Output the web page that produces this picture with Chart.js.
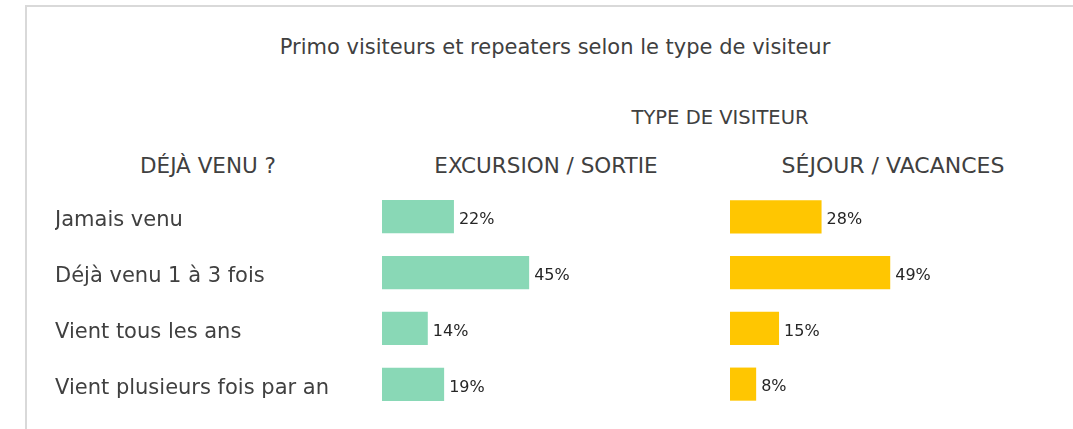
<!DOCTYPE html>
<html lang="fr">
<head>
<meta charset="utf-8">
<title>Primo visiteurs et repeaters</title>
<script src="https://cdn.jsdelivr.net/npm/chart.js@4.4.1/dist/chart.umd.min.js"></script>
<style>
    html, body {
        margin: 0;
        padding: 0;
        background: #ffffff;
        width: 1073px;
        height: 429px;
        overflow: hidden;
        font-family: "DejaVu Sans", sans-serif;
    }
    .frame {
        position: absolute;
        left: 25px;
        top: 5px;
        width: 1048px;
        height: 424px;
        border-left: 2px solid #d9d9d9;
        border-top: 2px solid #d9d9d9;
        box-sizing: border-box;
    }
    .txt {
        position: absolute;
        color: #404040;
        white-space: nowrap;
        transform: translate(-50%, -50%);
    }
    canvas {
        position: absolute;
    }
</style>
</head>
<body>
<div class="frame"></div>

<div class="txt" id="title" style="left:555px; top:47px; font-size:21px;"></div>
<div class="txt" id="typeHeader" style="left:720px; top:117px; font-size:19.5px;"></div>
<div class="txt" id="rowHeader" style="left:208px; top:165px; font-size:21.5px;"></div>
<div class="txt" id="colHeaderA" style="left:546px; top:165px; font-size:21.5px;"></div>
<div class="txt" id="colHeaderB" style="left:893px; top:165px; font-size:22px;"></div>

<!-- the left chart also carries the category labels; its canvas is taller by one label height
     because Chart.js keeps half a label of room above and below the vertical axis -->
<canvas id="chartExcursion" width="654" height="249" style="left:55px; top:176px;"></canvas>
<canvas id="chartSejour" width="327" height="223" style="left:730px; top:189px;"></canvas>

<script>
// Data
const chartTitle = 'Primo visiteurs et repeaters selon le type de visiteur';
const typeHeader = 'TYPE DE VISITEUR';
const rowHeader = 'DÉJÀ VENU ?';
const seriesNames = ['EXCURSION / SORTIE', 'SÉJOUR / VACANCES'];
const categories = ['Jamais venu', 'Déjà venu 1 à 3 fois', 'Vient tous les ans', 'Vient plusieurs fois par an'];
const excursionValues = [22, 45, 14, 19];
const sejourValues = [28, 49, 15, 8];

const colors = {
    green: '#89d8b6',
    yellow: '#ffc601',
    text: '#404040',
    label: '#262626'
};

document.getElementById('title').textContent = chartTitle;
document.getElementById('typeHeader').textContent = typeHeader;
document.getElementById('rowHeader').textContent = rowHeader;
document.getElementById('colHeaderA').textContent = seriesNames[0];
document.getElementById('colHeaderB').textContent = seriesNames[1];

// Small plugin: write "xx%" just after the end of each bar
const valueLabels = {
    id: 'valueLabels',
    afterDatasetsDraw(chart) {
        const ctx = chart.ctx;
        ctx.save();
        ctx.font = '16px "DejaVu Sans", sans-serif';
        ctx.fillStyle = colors.label;
        ctx.textAlign = 'left';
        ctx.textBaseline = 'middle';
        chart.getDatasetMeta(0).data.forEach((bar, i) => {
            const value = chart.data.datasets[0].data[i];
            ctx.fillText(value + '%', bar.x + 5, bar.y + 3);
        });
        ctx.restore();
    }
};

function createBarChart(canvasId, values, color, showCategories) {
    const canvas = document.getElementById(canvasId);
    const yAxis = {
        display: showCategories,
        grid: { display: false, drawTicks: false },
        border: { display: false },
        ticks: {
            crossAlign: 'far',
            padding: 0,
            labelOffset: 4,
            color: colors.text,
            font: { family: '"DejaVu Sans", sans-serif', size: 21, lineHeight: 1.2 }
        }
    };
    if (showCategories) {
        // bars start 327px right of the label column
        yAxis.afterFit = (scale) => { scale.width = 327; };
    }

    return new Chart(canvas, {
        type: 'bar',
        data: {
            labels: categories,
            datasets: [{
                data: values,
                backgroundColor: color,
                borderWidth: 0,
                categoryPercentage: 1,
                barPercentage: 0.594
            }]
        },
        options: {
            indexAxis: 'y',
            responsive: false,
            animation: false,
            layout: { padding: 0 },
            plugins: {
                legend: { display: false },
                tooltip: { enabled: false }
            },
            scales: {
                x: {
                    display: false,
                    min: 0,
                    max: 100
                },
                y: yAxis
            }
        },
        plugins: [valueLabels]
    });
}

createBarChart('chartExcursion', excursionValues, colors.green, true);
createBarChart('chartSejour', sejourValues, colors.yellow, false);
</script>
</body>
</html>
